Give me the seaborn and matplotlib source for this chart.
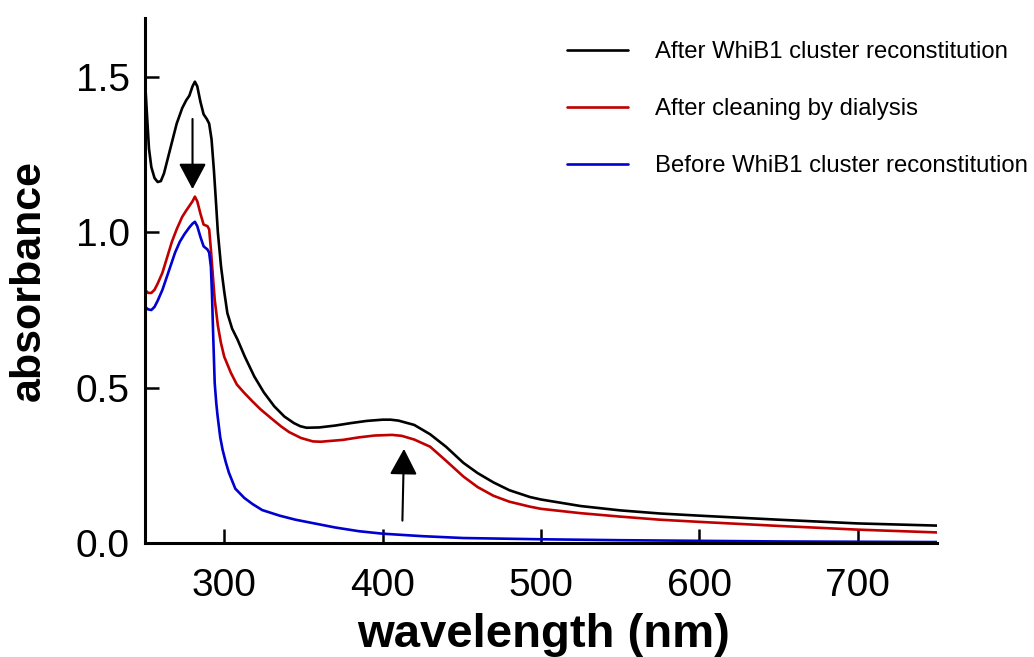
import numpy as np
import pandas as pd
import matplotlib
matplotlib.use("Agg")
import matplotlib.pyplot as plt
import seaborn as sns

# ---- data ----
wl_black = [250, 251, 252.5, 254, 256, 258, 260, 262, 264, 267, 270, 273.5, 276, 278, 280, 281.5,
            283, 285, 287, 289, 290.5, 292, 293.5, 294.7, 296, 298, 300, 302, 305, 308.4, 313, 319,
            325, 331.6, 338, 344, 348, 352, 360, 370, 380, 390, 400, 405, 410, 420, 430, 440, 451, 460,
            470, 480, 493, 500, 525, 550, 575, 600, 650, 700, 750]
abs_black = [1.49, 1.40, 1.27, 1.21, 1.175, 1.162, 1.165, 1.19, 1.23, 1.29, 1.35, 1.40, 1.425, 1.44,
             1.47, 1.485, 1.47, 1.42, 1.38, 1.365, 1.35, 1.30, 1.20, 1.106, 1.00, 0.89, 0.81, 0.74,
             0.69, 0.655, 0.60, 0.536, 0.485, 0.44, 0.407, 0.386, 0.376, 0.371, 0.372, 0.378, 0.386,
             0.393, 0.397, 0.397, 0.394, 0.38, 0.35, 0.31, 0.258, 0.225, 0.195, 0.17, 0.148, 0.14,
             0.119, 0.105, 0.095, 0.088, 0.075, 0.063, 0.056]

wl_red = [250, 252, 254, 256, 258, 261, 264, 267, 270, 273.5, 276, 278, 280, 281.5, 283, 285, 287,
          289.4, 290.5, 291.6, 293, 294, 296, 297.9, 300, 304.2, 308, 312.7, 318, 323, 330, 336,
          341, 348.5, 356, 361, 375, 385, 395, 406, 412, 420, 430, 440, 451, 460, 470, 480, 493,
          500, 525, 550, 575, 600, 650, 700, 750]
abs_red = [0.815, 0.805, 0.805, 0.815, 0.835, 0.87, 0.92, 0.97, 1.01, 1.05, 1.07, 1.085, 1.10, 1.115,
           1.10, 1.06, 1.025, 1.02, 1.01, 0.945, 0.85, 0.784, 0.70, 0.645, 0.60, 0.548, 0.51, 0.483,
           0.455, 0.43, 0.40, 0.375, 0.357, 0.338, 0.327, 0.326, 0.332, 0.34, 0.346, 0.348, 0.345,
           0.333, 0.31, 0.265, 0.214, 0.18, 0.152, 0.133, 0.117, 0.11, 0.096, 0.085, 0.075, 0.068,
           0.055, 0.043, 0.034]

wl_blue = [250, 252, 254, 256, 258, 261, 265, 269, 272, 275, 278, 280, 281.5, 283, 285, 287, 289.4,
           290.5, 291.6, 292.3, 293, 294, 295, 295.8, 297.5, 299, 301, 303, 307, 312.7, 318, 324,
           335, 345, 356, 370, 385, 400, 425, 451, 500, 550, 600, 650, 700, 750]
abs_blue = [0.76, 0.752, 0.75, 0.76, 0.78, 0.815, 0.875, 0.935, 0.97, 0.995, 1.016, 1.028, 1.034,
            1.02, 0.985, 0.955, 0.945, 0.935, 0.89, 0.80, 0.677, 0.515, 0.45, 0.41, 0.34, 0.30,
            0.26, 0.226, 0.175, 0.145, 0.125, 0.106, 0.088, 0.075, 0.064, 0.05, 0.038, 0.03,
            0.022, 0.016, 0.012, 0.009, 0.007, 0.005, 0.004, 0.003]

labels = ["After WhiB1 cluster reconstitution",
          "After cleaning by dialysis",
          "Before WhiB1 cluster reconstitution"]
colors = ["#000000", "#c00000", "#0000d0"]

x_ticks = [300, 400, 500, 600, 700]
y_ticks = [0.0, 0.5, 1.0, 1.5]

# arrows (tail -> tip), data coordinates
arrow_down = ((280, 1.365), (280, 1.139))
arrow_up = ((412.5, 0.072), (413.5, 0.303))

# ---- build long-form table ----
frames = []
for wl, ab, lab in zip([wl_black, wl_red, wl_blue], [abs_black, abs_red, abs_blue], labels):
    frames.append(pd.DataFrame({"wavelength": wl, "absorbance": ab, "series": lab}))
df = pd.concat(frames, ignore_index=True)

sns.set_style("ticks")
plt.rcParams["font.family"] = ["Liberation Sans", "DejaVu Sans"]
plt.rcParams["text.color"] = "black"
plt.rcParams["axes.labelcolor"] = "black"
plt.rcParams["xtick.color"] = "black"
plt.rcParams["ytick.color"] = "black"

fig = plt.figure(figsize=(10.34, 6.57), dpi=100)
ax = fig.add_axes([145 / 1034, 1 - 543 / 657, (937 - 145) / 1034, (543 - 18) / 657])

sns.lineplot(data=df, x="wavelength", y="absorbance", hue="series", hue_order=labels,
             palette=dict(zip(labels, colors)), linewidth=1.9, ax=ax, sort=False,
             estimator=None, legend=False)

ax.set_xlim(250, 750)
ax.set_ylim(0, 1.69)
ax.set_xticks(x_ticks)
ax.set_yticks(y_ticks)
ax.set_yticklabels([f"{v:.1f}" for v in y_ticks])

for side in ["top", "right"]:
    ax.spines[side].set_visible(False)
for side in ["left", "bottom"]:
    ax.spines[side].set_linewidth(2.2)
    ax.spines[side].set_color("black")

ax.tick_params(axis="both", direction="in", length=10, width=1.8, labelsize=28,
               colors="black", labelcolor="black")
ax.tick_params(axis="x", pad=18)
ax.tick_params(axis="y", pad=11)

ax.set_xlabel("wavelength (nm)", fontsize=34, fontweight="bold", color="black")
ax.set_ylabel("absorbance", fontsize=31, fontweight="bold", color="black")
ax.xaxis.set_label_coords(0.5035, -0.133)
ax.yaxis.set_label_coords(-0.122, 0.5)

for (tail, tip) in (arrow_down, arrow_up):
    ax.annotate("", xy=tip, xytext=tail,
                arrowprops=dict(arrowstyle="-|>,head_width=0.85,head_length=1.6",
                                color="black", lw=1.5, shrinkA=0, shrinkB=0,
                                mutation_scale=10))

handles = [plt.Line2D([], [], color=c, lw=1.9) for c in colors]
leg = fig.legend(handles, labels, loc="upper left", bbox_to_anchor=(567 / 1034, 1 - 41 / 657),
                 frameon=False, fontsize=17.2, handlelength=2.55, handletextpad=1.13,
                 labelspacing=1.47, borderpad=0, borderaxespad=0)
for t in leg.get_texts():
    t.set_color("black")

fig.savefig("out.png", dpi=100)
